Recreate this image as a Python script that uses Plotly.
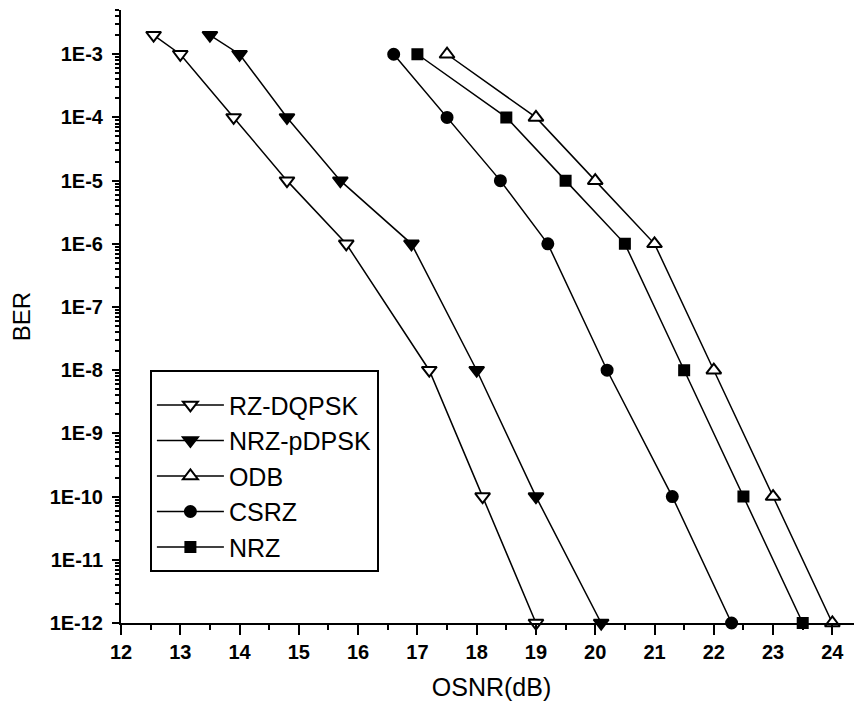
import plotly.graph_objects as go

# ---- data ----
ber = [2e-3, 1e-3, 1e-4, 1e-5, 1e-6, 1e-8, 1e-10, 1e-12]
ber7 = [1e-3, 1e-4, 1e-5, 1e-6, 1e-8, 1e-10, 1e-12]

rz_dqpsk_x = [12.55, 13.0, 13.9, 14.8, 15.8, 17.2, 18.1, 19.0]
nrz_pdpsk_x = [13.5, 14.0, 14.8, 15.7, 16.9, 18.0, 19.0, 20.1]
odb_x = [17.5, 19.0, 20.0, 21.0, 22.0, 23.0, 24.0]
csrz_x = [16.6, 17.5, 18.4, 19.2, 20.2, 21.3, 22.3]
nrz_x = [17.0, 18.5, 19.5, 20.5, 21.5, 22.5, 23.5]

ytick_vals = [1e-3, 1e-4, 1e-5, 1e-6, 1e-7, 1e-8, 1e-9, 1e-10, 1e-11, 1e-12]
ytick_text = ["1E-3", "1E-4", "1E-5", "1E-6", "1E-7", "1E-8", "1E-9", "1E-10", "1E-11", "1E-12"]
xtick_vals = list(range(12, 25))
xtick_text = [str(v) for v in xtick_vals]

FONT = "Arial, Liberation Sans, Helvetica, sans-serif"

series = [
    ("RZ-DQPSK", rz_dqpsk_x, ber, "triangle-down", "white", 13),
    ("NRZ-pDPSK", nrz_pdpsk_x, ber, "triangle-down", "black", 13),
    ("ODB", odb_x, ber7, "triangle-up", "white", 13),
    ("CSRZ", csrz_x, ber7, "circle", "black", 11),
    ("NRZ", nrz_x, ber7, "square", "black", 10),
]

fig = go.Figure()
for i, (name, xs, ys, sym, fill, sz) in enumerate(series):
    fig.add_trace(go.Scatter(
        x=xs, y=ys, name=name, mode="lines+markers",
        legendgroup=f"g{i}",
        line=dict(color="black", width=1.5),
        marker=dict(symbol=sym, size=sz, color=fill,
                    line=dict(color="black", width=2)),
        cliponaxis=False,
    ))

# minor tick positions on the log axis
minor_y = [m * 10.0 ** k for k in range(-12, -2) for m in range(2, 10)]

fig.update_layout(
    width=862, height=711,
    margin=dict(l=113, r=8, t=2, b=96),
    paper_bgcolor="white", plot_bgcolor="white",
    font=dict(family=FONT, color="black"),
    showlegend=True,
    legend=dict(
        x=0.039, y=0.413, xanchor="left", yanchor="top",
        bordercolor="black", borderwidth=2, bgcolor="white",
        font=dict(size=25, family=FONT, color="black"),
        title=dict(text=" ", font=dict(size=8)),
        tracegroupgap=0, itemwidth=67,
    ),
    xaxis=dict(
        range=[12, 24.5], showgrid=False, zeroline=False,
        showline=True, linecolor="black", linewidth=2,
        tickmode="array", tickvals=xtick_vals,
        ticktext=[f"<b>{t}</b>" for t in xtick_text],
        ticks="outside", ticklen=10, tickwidth=2, tickcolor="black",
        minor=dict(ticks="outside", ticklen=5, tickwidth=2, tickcolor="black", dtick=0.5),
        tickfont=dict(size=20, family=FONT),
        title=dict(text="OSNR(dB)", font=dict(size=25, family=FONT), standoff=16),
    ),
    yaxis=dict(
        type="log", range=[-12, -2.3], showgrid=False, zeroline=False,
        showline=True, linecolor="black", linewidth=2,
        tickmode="array", tickvals=ytick_vals,
        ticktext=[f"<b>{t}</b>" for t in ytick_text],
        ticks="outside", ticklen=7, tickwidth=2, tickcolor="black",
        ticklabelstandoff=5,
        minor=dict(ticks="outside", ticklen=4, tickwidth=1.5, tickcolor="black",
                   tickmode="array", tickvals=minor_y),
        tickfont=dict(size=20, family=FONT),
        title=dict(text="BER", font=dict(size=24, family=FONT), standoff=20),
    ),
)

fig.write_html("out.html")
